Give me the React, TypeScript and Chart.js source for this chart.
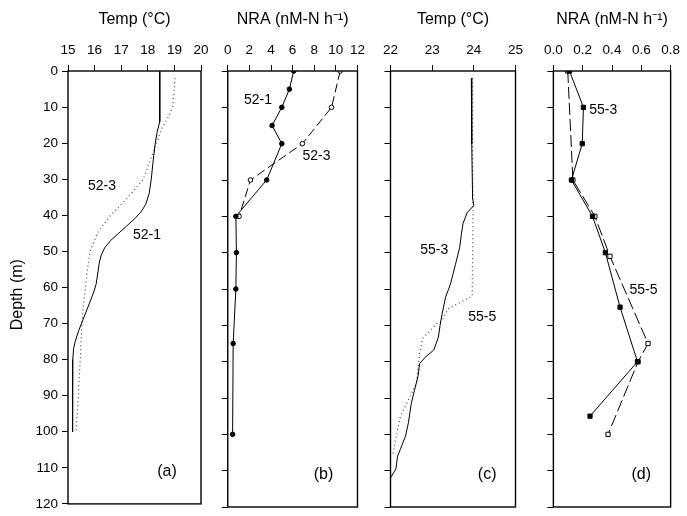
import React, { useEffect, useRef } from 'react';
import { Chart, registerables } from 'chart.js';
Chart.register(...registerables);

const FONT = "'Liberation Sans', Arial, Helvetica, sans-serif";

// ---- Panel (a): temperature, stations 52-1 / 52-3 ----
const depthA1 = [0, 5, 10, 14, 17, 20, 25, 30, 34, 37, 39, 41, 43, 45, 47, 49, 51, 53, 56, 59, 61, 63, 66, 69, 72, 75, 77, 80, 85, 90, 95, 100];
const tempA1 = [18.45, 18.45, 18.45, 18.45, 18.35, 18.28, 18.2, 18.13, 18.05, 17.92, 17.75, 17.5, 17.2, 16.9, 16.6, 16.38, 16.25, 16.18, 16.12, 16.06, 15.98, 15.88, 15.72, 15.56, 15.4, 15.27, 15.21, 15.18, 15.17, 15.17, 15.17, 15.18];
const depthA3 = [2, 5, 10, 13, 16, 20, 25, 30, 35, 40, 45, 50, 55, 60, 65, 70, 80, 90, 100];
const tempA3 = [19.02, 19.0, 18.93, 18.75, 18.52, 18.33, 18.08, 17.83, 17.26, 16.6, 16.1, 15.83, 15.73, 15.66, 15.58, 15.52, 15.46, 15.39, 15.3];

// ---- Panel (b): NRA, stations 52-1 / 52-3 ----
const depthB1 = [0, 5, 10, 15, 20, 30, 40, 50, 60, 75, 100];
const nraB1 = [6.1, 5.7, 5.0, 4.1, 5.0, 3.6, 0.75, 0.8, 0.75, 0.5, 0.45];
const depthB3 = [0, 10, 20, 30, 40];
const nraB3 = [10.4, 9.6, 6.9, 2.1, 1.05];

// ---- Panel (c): temperature, stations 55-3 / 55-5 ----
const depthC3 = [2, 20, 35, 37, 39, 42, 45, 48.6, 53.2, 58.6, 62.3, 66.8, 70, 73.2, 76.8, 78.6, 80.5, 84, 87.7, 91.4, 96.8, 100.5, 104, 106, 109.5, 112];
const tempC3 = [23.94, 23.95, 23.97, 24.0, 23.84, 23.74, 23.7, 23.66, 23.56, 23.44, 23.32, 23.24, 23.19, 23.15, 23.04, 22.85, 22.7, 22.66, 22.58, 22.5, 22.43, 22.36, 22.24, 22.17, 22.13, 22.0];
const depthC5 = [2, 20, 40, 62, 63.5, 65.5, 69, 69.5, 71.5, 73.6, 77.7, 82, 86, 89.5, 95, 98.6, 102, 106];
const tempC5 = [23.97, 23.97, 23.98, 23.96, 23.7, 23.38, 23.22, 23.11, 22.95, 22.77, 22.7, 22.66, 22.62, 22.47, 22.24, 22.17, 22.11, 22.05];

// ---- Panel (d): NRA, stations 55-3 / 55-5 ----
const depthD3 = [0, 10, 20, 30, 40, 50, 65, 80, 95];
const nraD3 = [0.11, 0.205, 0.197, 0.123, 0.267, 0.355, 0.455, 0.574, 0.25];
const depthD5 = [0, 30, 40, 51, 75, 80, 100];
const nraD5 = [0.098, 0.133, 0.283, 0.386, 0.646, 0.578, 0.373];

const depthTicksMax = 120;

const pts = (xs: number[], ys: number[]) => xs.map((v, i) => ({ x: v, y: ys[i] }));

type Ann = { t: string; x: number; y: number; size?: number };

const boxPlugin = {
  id: 'box',
  afterDraw(chart: any) {
    const { ctx, chartArea: a } = chart;
    ctx.save();
    ctx.strokeStyle = '#000';
    ctx.lineWidth = 1.4;
    ctx.strokeRect(a.left, a.top, a.right - a.left, a.bottom - a.top);
    ctx.restore();
  },
};

const annPlugin = (anns: Ann[], yTitle: boolean) => ({
  id: 'anns',
  afterDraw(chart: any) {
    const { ctx } = chart;
    const xs = chart.scales.x;
    const ys = chart.scales.y;
    ctx.save();
    ctx.fillStyle = '#000';
    ctx.textAlign = 'center';
    ctx.textBaseline = 'middle';
    for (const a of anns) {
      ctx.font = `${a.size || 14}px ${FONT}`;
      ctx.fillText(a.t, xs.getPixelForValue(a.x), ys.getPixelForValue(a.y));
    }
    if (yTitle) {
      ctx.translate(18, ys.getPixelForValue(62));
      ctx.rotate(-Math.PI / 2);
      ctx.font = `16px ${FONT}`;
      ctx.fillText('Depth (m)', 0, 0);
    }
    ctx.restore();
  },
});

function build(p: {
  xmin: number; xmax: number; step: number; title: string; yLabels: boolean; yWidth: number;
  padRight: number; decimals: number; datasets: any[]; anns: Ann[];
}) {
  return {
    type: 'scatter' as const,
    data: { datasets: p.datasets },
    options: {
      animation: false,
      responsive: false,
      events: [],
      layout: { padding: { left: 0, right: p.padRight, top: 0, bottom: 9 } },
      plugins: { legend: { display: false }, tooltip: { enabled: false } },
      scales: {
        x: {
          type: 'linear', position: 'top', min: p.xmin, max: p.xmax,
          ticks: {
            stepSize: p.step, color: '#000', padding: 7, maxRotation: 0, autoSkip: false,
            font: { family: FONT, size: 13.5 },
            callback: (v: any) => Number(v).toFixed(p.decimals),
          },
          grid: { drawOnChartArea: false, drawTicks: true, tickLength: 6, color: '#000', lineWidth: 1 },
          border: { display: false },
          title: { display: true, text: p.title, color: '#000', font: { family: FONT, size: 16 }, padding: { top: 10, bottom: 0 } },
          afterFit: (s: any) => { s.height = 71; },
        },
        y: {
          type: 'linear', reverse: true, min: 0, max: depthTicksMax,
          ticks: { stepSize: 10, display: p.yLabels, color: '#000', padding: 4, font: { family: FONT, size: 13.5 } },
          grid: { drawOnChartArea: false, drawTicks: true, tickLength: 6, color: '#000', lineWidth: 1 },
          border: { display: false },
          title: { display: false },
          afterFit: (s: any) => { s.width = p.yWidth; },
        },
      },
    },
    plugins: [boxPlugin, annPlugin(p.anns, p.yLabels)],
  };
}

const solid = (data: any[]) => ({ data, showLine: true, borderColor: '#000', borderWidth: 1, pointRadius: 0, tension: 0 });
const dotted = (data: any[]) => ({ data, showLine: true, borderColor: '#444', borderWidth: 1.2, borderDash: [1, 3], pointRadius: 0, tension: 0 });

const configA = build({
  xmin: 15, xmax: 20, step: 1, title: 'Temp (°C)', yLabels: true, yWidth: 68, padRight: 15, decimals: 0,
  datasets: [solid(pts(tempA1, depthA1)), dotted(pts(tempA3, depthA3))],
  anns: [
    { t: '52-3', x: 16.28, y: 32 },
    { t: '52-1', x: 17.97, y: 45.5 },
    { t: '(a)', x: 18.72, y: 111, size: 16 },
  ],
});

const configB = build({
  xmin: 0, xmax: 12, step: 2, title: 'NRA (nM-N h⁻¹)', yLabels: false, yWidth: 10, padRight: 12, decimals: 0,
  datasets: [
    { data: pts(nraB1, depthB1), showLine: true, borderColor: '#000', borderWidth: 1, pointRadius: 2.3, pointBackgroundColor: '#000', pointBorderColor: '#000', pointStyle: 'circle' },
    { data: pts(nraB3, depthB3), showLine: true, borderColor: '#000', borderWidth: 1, borderDash: [9, 4], pointRadius: 2.3, pointBackgroundColor: '#fff', pointBorderColor: '#000', pointBorderWidth: 1, pointStyle: 'circle' },
  ],
  anns: [
    { t: '52-1', x: 2.8, y: 8 },
    { t: '52-3', x: 8.2, y: 23.3 },
    { t: '(b)', x: 8.85, y: 111, size: 16 },
  ],
});

const configC = build({
  xmin: 22, xmax: 25, step: 1, title: 'Temp (°C)', yLabels: false, yWidth: 10, padRight: 12, decimals: 0,
  datasets: [solid(pts(tempC3, depthC3)), dotted(pts(tempC5, depthC5))],
  anns: [
    { t: '55-3', x: 23.05, y: 49.3 },
    { t: '55-5', x: 24.2, y: 67.7 },
    { t: '(c)', x: 24.32, y: 111, size: 16 },
  ],
});

const configD = build({
  xmin: 0, xmax: 0.8, step: 0.2, title: 'NRA (nM-N h⁻¹)', yLabels: false, yWidth: 10, padRight: 10, decimals: 1,
  datasets: [
    { data: pts(nraD3, depthD3), showLine: true, borderColor: '#000', borderWidth: 1, pointRadius: 3, pointBackgroundColor: '#000', pointBorderColor: '#000', pointStyle: 'rect' },
    { data: pts(nraD5, depthD5), showLine: true, borderColor: '#000', borderWidth: 1, borderDash: [12, 4], pointRadius: 3, pointBackgroundColor: '#fff', pointBorderColor: '#000', pointBorderWidth: 1, pointStyle: 'rect' },
  ],
  anns: [
    { t: '55-3', x: 0.34, y: 10.7 },
    { t: '55-5', x: 0.615, y: 60.3 },
    { t: '(d)', x: 0.6, y: 111, size: 16 },
  ],
});

function Panel({ left, width, config }: { left: number; width: number; config: any }) {
  const ref = useRef<HTMLCanvasElement>(null);
  useEffect(() => {
    const chart = new Chart(ref.current as HTMLCanvasElement, config);
    return () => chart.destroy();
  }, [config]);
  return (
    <canvas ref={ref} width={width} height={516}
      style={{ position: 'absolute', left, top: 0, width, height: 516, display: 'block' }} />
  );
}

export default function App() {
  return (
    <div style={{ position: 'fixed', left: 0, top: 0, width: 687, height: 516, background: '#fff' }}>
      <Panel left={0} width={216} config={configA} />
      <Panel left={217} width={155} config={configB} />
      <Panel left={376} width={154} config={configC} />
      <Panel left={537} width={150} config={configD} />
    </div>
  );
}
